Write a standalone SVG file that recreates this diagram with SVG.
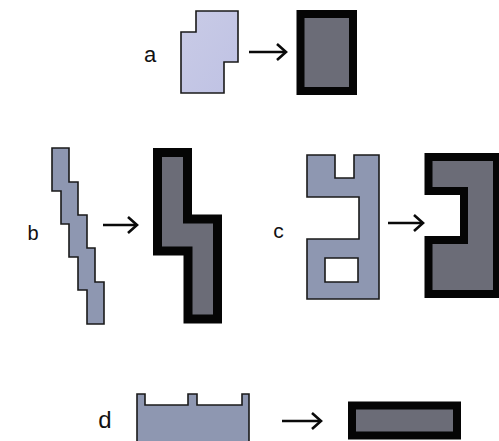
<svg xmlns="http://www.w3.org/2000/svg" width="499" height="441" viewBox="0 0 499 441">
<defs>
<style>
.lbl{font-family:"Liberation Sans",Arial,sans-serif;fill:#111;text-anchor:middle}
.src{stroke:#1a1a1a;stroke-width:1.6;stroke-linejoin:miter}
.srcb{fill:#8e97b1}
.tgt{fill:#6b6c77;stroke:#050505;stroke-linejoin:miter}
.arr{stroke:#0a0a0a;stroke-width:2.6;fill:none;marker-end:url(#head)}
</style>
<marker id="head" markerUnits="userSpaceOnUse" markerWidth="14" markerHeight="20" viewBox="0 0 14 20" refX="11" refY="10" orient="auto">
<path d="M2,2 L11,10 L2,18" fill="none" stroke="#0a0a0a" stroke-width="2.6"/>
</marker>
<linearGradient id="ga" x1="0" y1="0" x2="1" y2="1">
<stop offset="0" stop-color="#c9cbe6"/>
<stop offset="1" stop-color="#bfc2e4"/>
</linearGradient>
</defs>
<rect width="499" height="441" fill="#ffffff"/>

<g id="label-a"><text class="lbl" x="150" y="61.5" font-size="22">a</text></g>
<g id="label-b"><text class="lbl" x="33" y="240" font-size="20">b</text></g>
<g id="label-c"><text class="lbl" x="278.5" y="237.5" font-size="21">c</text></g>
<g id="label-d"><text class="lbl" x="105" y="428" font-size="24">d</text></g>

<g id="node-a-src"><polygon class="src" fill="url(#ga)" points="196,11 238,11 238,62 224,62 224,93 181,93 181,32 196,32"/></g>
<g id="node-a-tgt"><rect class="tgt" stroke-width="8" x="300.5" y="14" width="52.5" height="77"/></g>

<g id="node-b-src"><polygon class="src srcb" points="52,148 69,148 69,182 78,182 78,215 87,215 87,248 95,248 95,282 104,282 104,324 87,324 87,290 78,290 78,257 69,257 69,224 61,224 61,191 52,191"/></g>
<g id="node-b-tgt"><polygon class="tgt" stroke-width="9" points="157.5,152.5 187.5,152.5 187.5,219 217.5,219 217.5,319 188,319 188,251 157.5,251"/></g>

<g id="node-c-src"><path class="src srcb" fill-rule="evenodd" d="M307,155 L335,155 L335,178 L354,178 L354,155 L379,155 L379,299 L307,299 L307,239 L359,239 L359,197 L307,197 Z M325,258 L358,258 L358,282 L325,282 Z"/></g>
<g id="node-c-tgt"><polygon class="tgt" stroke-width="8" points="428.5,157 497,157 497,294 428.5,294 428.5,240 464,240 464,191 428.5,191"/></g>

<g id="node-d-src"><polygon class="src srcb" points="137,445 137,394 145,394 145,405 188,405 188,394 197,394 197,405 242,405 242,394 249,394 249,445"/></g>
<g id="node-d-tgt"><rect class="tgt" stroke-width="8" x="352" y="405.5" width="105" height="30"/></g>

<g id="connectors">
<path class="arr" d="M249,52 L286,52"/>
<path class="arr" d="M103,225 L137,225"/>
<path class="arr" d="M388,223 L423,223"/>
<path class="arr" d="M282,421 L321,421"/>
</g>
</svg>
